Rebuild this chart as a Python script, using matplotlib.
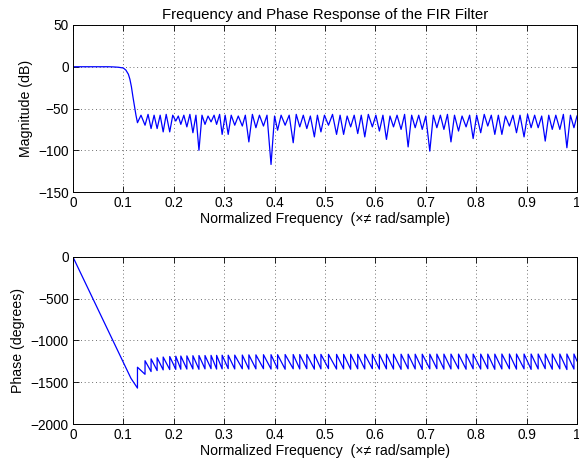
import numpy as np
import matplotlib.pyplot as plt

plt.rcParams['font.family'] = ['Liberation Sans', 'DejaVu Sans']
plt.rcParams['font.size'] = 10.2

# magnitude: passband and transition band (normalized freq, dB)
band_freq = [0.0, 0.07, 0.08, 0.09, 0.10, 0.105, 0.11, 0.113, 0.116, 0.119, 0.122, 0.125]
band_db = [0.0, 0.0, -0.2, -0.6, -1.5, -4.0, -9.0, -15.0, -24.0, -36.0, -47.0, -58.0]

# stopband nulls
null_freq = [0.128, 0.143, 0.155, 0.167, 0.179, 0.192, 0.204, 0.214, 0.226, 0.238,
             0.250, 0.262, 0.274, 0.285, 0.296, 0.308, 0.321, 0.336, 0.349, 0.363,
             0.378, 0.393, 0.406, 0.421, 0.437, 0.450, 0.464, 0.479, 0.492, 0.507,
             0.523, 0.537, 0.551, 0.565, 0.579, 0.594, 0.608, 0.622, 0.636, 0.651,
             0.665, 0.679, 0.693, 0.708, 0.722, 0.736, 0.750, 0.765, 0.780, 0.794,
             0.809, 0.823, 0.837, 0.851, 0.866, 0.880, 0.895, 0.909, 0.923, 0.937,
             0.951, 0.966, 0.980, 0.994]
null_db = [-67, -70, -74, -74, -78, -78, -65, -69, -72, -79,
           -100, -69, -66, -69, -81, -81, -70, -71, -90, -73,
           -71, -117, -76, -70, -91, -72, -74, -84, -78, -70,
           -81, -81, -72, -80, -84, -72, -77, -87, -72, -75,
           -96, -73, -75, -101, -73, -75, -90, -77, -72, -86,
           -79, -71, -81, -81, -71, -79, -84, -73, -73, -89,
           -75, -75, -97, -73]

# sidelobe peaks between the nulls
peak_freq = [0.135, 0.149, 0.161, 0.173, 0.185, 0.198, 0.209, 0.220, 0.232, 0.244,
             0.256, 0.268, 0.280, 0.291, 0.302, 0.314, 0.328, 0.342, 0.356, 0.370,
             0.385, 0.400, 0.413, 0.429, 0.443, 0.457, 0.471, 0.485, 0.499, 0.515,
             0.530, 0.544, 0.558, 0.572, 0.586, 0.601, 0.615, 0.629, 0.643, 0.658,
             0.672, 0.686, 0.700, 0.715, 0.729, 0.743, 0.757, 0.772, 0.787, 0.801,
             0.816, 0.830, 0.844, 0.858, 0.873, 0.887, 0.902, 0.916, 0.930, 0.944,
             0.958, 0.973, 0.987]
peak_db = [-58, -57, -58, -58, -57, -58, -59, -58, -57, -58,
           -58, -59, -58, -57, -58, -58, -59, -58, -57, -58,
           -58, -59, -58, -58, -57, -58, -59, -58, -58, -57,
           -58, -59, -58, -58, -57, -58, -58, -59, -58, -57,
           -58, -58, -59, -58, -58, -57, -58, -59, -58, -58,
           -57, -58, -58, -59, -58, -58, -57, -58, -59, -58,
           -58, -57, -58]
end_db = -59

# phase: linear part (degrees)
phase_freq = [0.0, 0.05, 0.10, 0.115, 0.128]
phase_deg = [0, -630, -1262, -1452, -1570]
# phase just before / after the jump at each stopband null
jump_low = [-1570, -1405, -1372, -1360, -1352, -1348, -1346, -1344, -1342, -1341,
            -1345, -1340, -1338, -1342, -1340, -1337, -1341, -1339, -1343, -1340,
            -1338, -1342, -1340, -1344, -1339, -1341, -1338, -1343, -1340, -1337,
            -1342, -1340, -1344, -1339, -1341, -1338, -1343, -1340, -1342, -1345,
            -1339, -1341, -1347, -1340, -1338, -1343, -1341, -1339, -1344, -1340,
            -1342, -1338, -1345, -1341, -1339, -1343, -1340, -1346, -1341, -1338,
            -1344, -1340, -1348, -1342]
jump_high = [-1320, -1242, -1220, -1206, -1198, -1192, -1188, -1186, -1184, -1182,
             -1180, -1180, -1178, -1178, -1176, -1176, -1175, -1174, -1172, -1172,
             -1170, -1170, -1170, -1168, -1168, -1168, -1167, -1167, -1166, -1166,
             -1166, -1166, -1165, -1165, -1165, -1165, -1165, -1164, -1164, -1164,
             -1164, -1164, -1164, -1164, -1163, -1163, -1163, -1163, -1163, -1163,
             -1163, -1163, -1163, -1162, -1162, -1162, -1162, -1162, -1162, -1162,
             -1162, -1162, -1162, -1162]
end_phase = -1245

# assemble polylines
mag_x = list(band_freq)
mag_y = list(band_db)
for i in range(len(null_freq)):
    mag_x.append(null_freq[i])
    mag_y.append(null_db[i])
    if i < len(peak_freq):
        mag_x.append(peak_freq[i])
        mag_y.append(peak_db[i])
mag_x.append(1.0)
mag_y.append(end_db)

ph_x = list(phase_freq[:-1])
ph_y = list(phase_deg[:-1])
for i in range(len(null_freq)):
    ph_x += [null_freq[i], null_freq[i]]
    ph_y += [jump_low[i], jump_high[i]]
ph_x.append(1.0)
ph_y.append(end_phase)

fig = plt.figure(figsize=(5.79, 4.68), dpi=100)
ax1 = fig.add_axes([0.126, 0.5897, 0.8705, 0.3569])
ax2 = fig.add_axes([0.126, 0.094, 0.8705, 0.3569])

xlabel = 'Normalized Frequency  (\u00d7\u2260 rad/sample)'

for ax in (ax1, ax2):
    ax.set_xlim(0, 1)
    ax.set_xticks(np.arange(0, 1.01, 0.1))
    ax.set_xticklabels(['0', '0.1', '0.2', '0.3', '0.4', '0.5', '0.6', '0.7', '0.8', '0.9', '1'])
    ax.grid(True, color='0.25', linestyle=(0, (1, 3.5)), linewidth=0.6)
    ax.tick_params(direction='in', top=True, right=True, length=4, width=0.6, pad=3,
                   labelsize=9.8)
    for s in ax.spines.values():
        s.set_linewidth(0.7)
    ax.set_xlabel(xlabel, labelpad=1)

ax1.plot(mag_x, mag_y, color='blue', linewidth=0.9)
ax1.set_ylim(-150, 50)
ax1.set_yticks([-150, -100, -50, 0, 50])
ax1.set_ylabel('Magnitude (dB)', labelpad=4)
ax1.set_title('Frequency and Phase Response of the FIR Filter', fontsize=10.8, pad=4)

ax2.plot(ph_x, ph_y, color='blue', linewidth=0.9)
ax2.set_ylim(-2000, 0)
ax2.set_yticks([-2000, -1500, -1000, -500, 0])
ax2.set_ylabel('Phase (degrees)', labelpad=4)

fig.savefig('out.png', dpi=100)
